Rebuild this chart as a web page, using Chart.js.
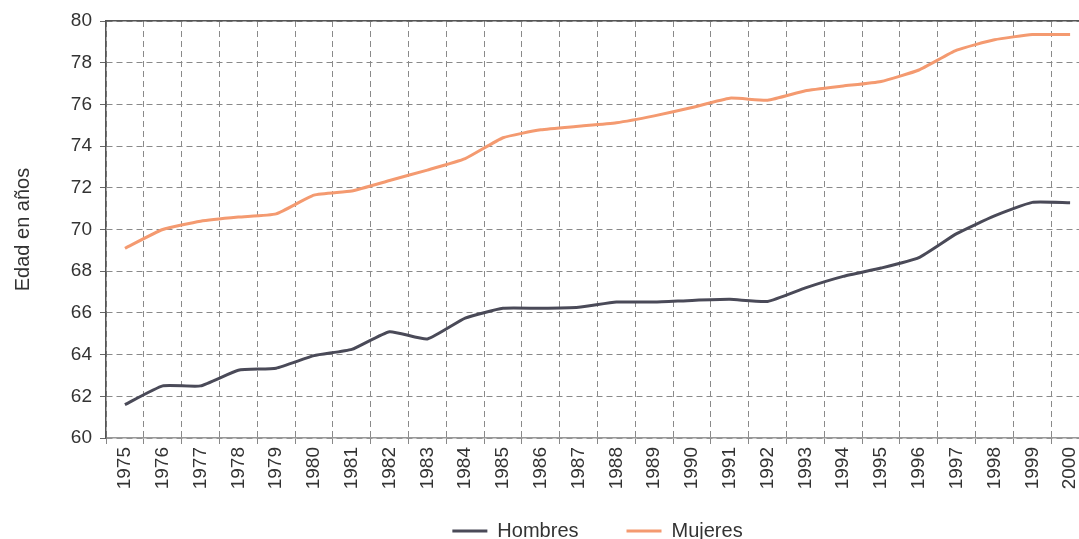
<!DOCTYPE html>
<html>
<head>
<meta charset="utf-8">
<script src="https://cdn.jsdelivr.net/npm/chart.js@4/dist/chart.umd.min.js"></script>
<style>
  html, body { margin: 0; padding: 0; background: #fff; overflow: hidden; }
  #wrap { position: relative; width: 1100px; height: 539px; }
</style>
</head>
<body>
<div id="wrap"><canvas id="c"></canvas></div>
<script>
const years = ['1975','1976','1977','1978','1979','1980','1981','1982','1983','1984','1985','1986','1987','1988','1989','1990','1991','1992','1993','1994','1995','1996','1997','1998','1999','2000'];
const hombres = [61.6, 62.5, 62.5, 63.25, 63.35, 63.95, 64.25, 65.1, 64.75, 65.75, 66.22, 66.22, 66.27, 66.52, 66.52, 66.6, 66.65, 66.55, 67.2, 67.75, 68.15, 68.65, 69.8, 70.65, 71.3, 71.28];
const mujeres = [69.1, 70.0, 70.4, 70.6, 70.75, 71.65, 71.85, 72.35, 72.85, 73.4, 74.4, 74.78, 74.95, 75.12, 75.45, 75.85, 76.3, 76.2, 76.65, 76.88, 77.1, 77.65, 78.6, 79.1, 79.35, 79.35];
const seriesNames = ['Hombres', 'Mujeres'];
const yTitle = 'Edad en años';
const yMin = 60, yMax = 80, yStep = 2;

const FONT = "'Liberation Sans', Arial, Helvetica, sans-serif";

const legendNudge = {
  id: 'legendNudge',
  afterLayout(chart) {
    const l = chart.legend;
    if (l) { l.top -= 17; l.height += 17; }
  }
};

new Chart(document.getElementById('c'), {
  type: 'line',
  data: {
    labels: years,
    datasets: [
      { label: seriesNames[0], data: hombres, borderColor: '#4a4a58', backgroundColor: '#4a4a58', borderWidth: 3, pointRadius: 0, tension: 0.15 },
      { label: seriesNames[1], data: mujeres, borderColor: '#f49a70', backgroundColor: '#f49a70', borderWidth: 3, pointRadius: 0, tension: 0.15 }
    ]
  },
  plugins: [legendNudge],
  options: {
    responsive: true,
    maintainAspectRatio: false,
    animation: false,
    layout: { padding: { top: 21, right: 11, left: 0, bottom: 0 } },
    plugins: {
      tooltip: { enabled: false },
      legend: {
        position: 'bottom',
        fullSize: false,
        maxHeight: 49,
        labels: {
          usePointStyle: true,
          pointStyle: 'line',
          pointStyleWidth: 35,
          padding: 48,
          color: '#333',
          font: { family: FONT, size: 20 }
        }
      }
    },
    scales: {
      x: {
        type: 'category',
        offset: true,
        grid: { offset: true, color: '#8a8a8a', lineWidth: 1, tickLength: 6, tickColor: '#888' },
        border: { display: true, color: '#999', width: 1.5, dash: [6, 4] },
        ticks: { autoSkip: false, maxRotation: 90, minRotation: 90, padding: 3, color: '#333', font: { family: FONT, size: 19 } },
        afterFit: (s) => { s.height = 52; }
      },
      x2: {
        type: 'linear',
        position: 'top',
        display: true,
        grid: { display: false, drawTicks: false },
        ticks: { display: false },
        border: { display: true, color: '#555', width: 1.5 }
      },
      y: {
        min: yMin, max: yMax,
        ticks: { stepSize: yStep, padding: 8, color: '#333', font: { family: FONT, size: 19 } },
        grid: { color: '#8a8a8a', lineWidth: 1, tickLength: 6, tickColor: '#666' },
        border: { display: true, color: '#555', width: 1.5, dash: [6, 4] },
        title: { display: true, text: yTitle, color: '#333', font: { family: FONT, size: 20 }, padding: { top: 11, bottom: 0 } },
        afterFit: (s) => { s.width = 106; }
      }
    }
  }
});
</script>
</body>
</html>
